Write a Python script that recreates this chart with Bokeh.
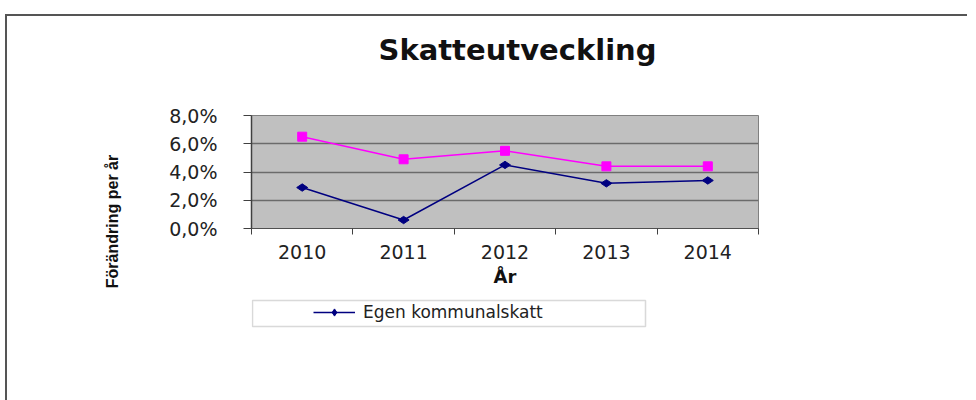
import math
from bokeh.plotting import figure
from bokeh.layouts import column
from bokeh.models import (Range1d, FixedTicker, Label, Legend, LegendItem, ColumnDataSource,
                          BoxAnnotation)
from bokeh.embed import file_html
from bokeh.resources import INLINE

# ---- data ----
years = ["2010", "2011", "2012", "2013", "2014"]
egen_kommunalskatt = [2.9, 0.6, 4.5, 3.2, 3.4]
other_series = [6.5, 4.9, 5.5, 4.4, 4.4]
y_ticks = [0, 2, 4, 6, 8]
y_tick_labels = ["0,0%", "2,0%", "4,0%", "6,0%", "8,0%"]
title_text = "Skatteutveckling"
y_title = "Förändring per år"
x_title = "År"
legend_text = "Egen kommunalskatt"

BLUE = "#000080"
PINK = "#FF00FF"

xs = list(range(len(years)))
src = ColumnDataSource(dict(x=xs, blue=egen_kommunalskatt, pink=other_series))


def blank_fig(h, xr=(0, 1), yr=(0, 1)):
    f = figure(width=960, height=h, output_backend="svg", toolbar_location=None,
               x_axis_location=None, y_axis_location=None,
               x_range=Range1d(*xr), y_range=Range1d(*yr), min_border=0)
    f.outline_line_color = None
    f.grid.visible = False
    f.background_fill_color = "white"
    f.border_fill_color = "white"
    return f


# ---- title strip (its frame lines up with the chart frame) ----
tf = blank_fig(50)
tf.add_layout(Label(x=266, y=17, x_units="screen", y_units="screen", text=title_text,
                    text_align="center", text_baseline="middle", text_font="DejaVu Sans",
                    text_font_style="bold", text_font_size="29px", text_color="#111111"))

# ---- main chart ----
p = figure(width=960, height=224, output_backend="svg", toolbar_location=None,
           x_range=Range1d(-0.5, len(years) - 0.5), y_range=Range1d(0, 8),
           frame_width=507, frame_height=113,
           min_border_left=244, min_border_right=209, min_border_top=49, min_border_bottom=62)
p.background_fill_color = "#C0C0C0"
p.border_fill_color = "white"
p.outline_line_color = "#808080"
p.outline_line_width = 1

p.xgrid.grid_line_color = None
p.ygrid.ticker = FixedTicker(ticks=y_ticks)
p.ygrid.grid_line_color = "#6b6b6b"
p.ygrid.grid_line_width = 1.5

xa = p.xaxis[0]
xa.ticker = FixedTicker(ticks=xs, minor_ticks=[i - 0.5 for i in range(len(years) + 1)])
xa.major_label_overrides = {i: y for i, y in enumerate(years)}
xa.major_tick_line_color = None
xa.major_tick_out = 0
xa.major_tick_in = 0
xa.minor_tick_line_color = "#404040"
xa.minor_tick_out = 6
xa.minor_tick_in = 0
xa.axis_line_color = "#505050"
xa.major_label_standoff = 10
xa.major_label_text_font = "DejaVu Sans"
xa.major_label_text_font_size = "19px"
xa.major_label_text_color = "#222222"
xa.axis_label = x_title
xa.axis_label_text_font = "DejaVu Sans"
xa.axis_label_text_font_style = "bold"
xa.axis_label_text_font_size = "18px"
xa.axis_label_text_color = "#111111"
xa.axis_label_standoff = 4

ya = p.yaxis[0]
ya.ticker = FixedTicker(ticks=y_ticks)
ya.major_label_overrides = {t: l for t, l in zip(y_ticks, y_tick_labels)}
ya.minor_tick_line_color = None
ya.major_tick_out = 8
ya.major_tick_in = 0
ya.major_tick_line_color = "#404040"
ya.axis_line_color = "#404040"
ya.axis_line_width = 1.5
ya.major_label_standoff = 26
ya.major_label_text_font = "DejaVu Sans"
ya.major_label_text_font_size = "19px"
ya.major_label_text_color = "#222222"

p.line("x", "pink", source=src, line_color=PINK, line_width=1.5)
p.scatter("x", "pink", source=src, marker="square", size=9, fill_color=PINK, line_color=PINK)
p.line("x", "blue", source=src, line_color=BLUE, line_width=1.5)
p.scatter("x", "blue", source=src, marker="diamond", size=11, angle=math.pi / 2,
          fill_color=BLUE, line_color=BLUE)

p.add_layout(Label(x=-37, y=7, x_units="screen", y_units="screen", text=y_title,
                   angle=math.pi / 2, text_align="center", text_baseline="middle",
                   text_font="Liberation Sans",
                   text_font_style="bold", text_font_size="16px", text_color="#111111"),
             "left")

# ---- legend strip (its frame lines up with the chart frame) ----
# the series is drawn here only for its legend swatch; the ranges keep it out of view
lf = blank_fig(110, xr=(100, 101), yr=(100, 101))
lf.add_layout(BoxAnnotation(left=1, right=394, bottom=74, top=100,
                            left_units="screen", right_units="screen",
                            top_units="screen", bottom_units="screen",
                            fill_color="white", fill_alpha=1,
                            line_color="#808080", line_width=1.5))
ll = lf.line("x", "blue", source=src, line_color=BLUE, line_width=1.5)
lm = lf.scatter("x", "blue", source=src, marker="diamond", size=11, angle=math.pi / 2,
                fill_color=BLUE, line_color=BLUE)
legend = Legend(items=[LegendItem(label=legend_text, renderers=[ll, lm])],
                location=(62, 78), border_line_color=None, background_fill_alpha=0,
                padding=0, margin=0, spacing=0, glyph_width=42, glyph_height=18,
                label_standoff=8, label_text_font="DejaVu Sans", label_text_font_size="17px",
                label_text_color="#222222", label_height=18)
lf.add_layout(legend)

layout = column(tf, p, lf, spacing=0,
                styles={"margin-left": "5px", "margin-top": "14px",
                        "border-top": "2px solid #555555", "border-left": "2px solid #555555"})

open("out.html", "w").write(file_html(layout, INLINE))
